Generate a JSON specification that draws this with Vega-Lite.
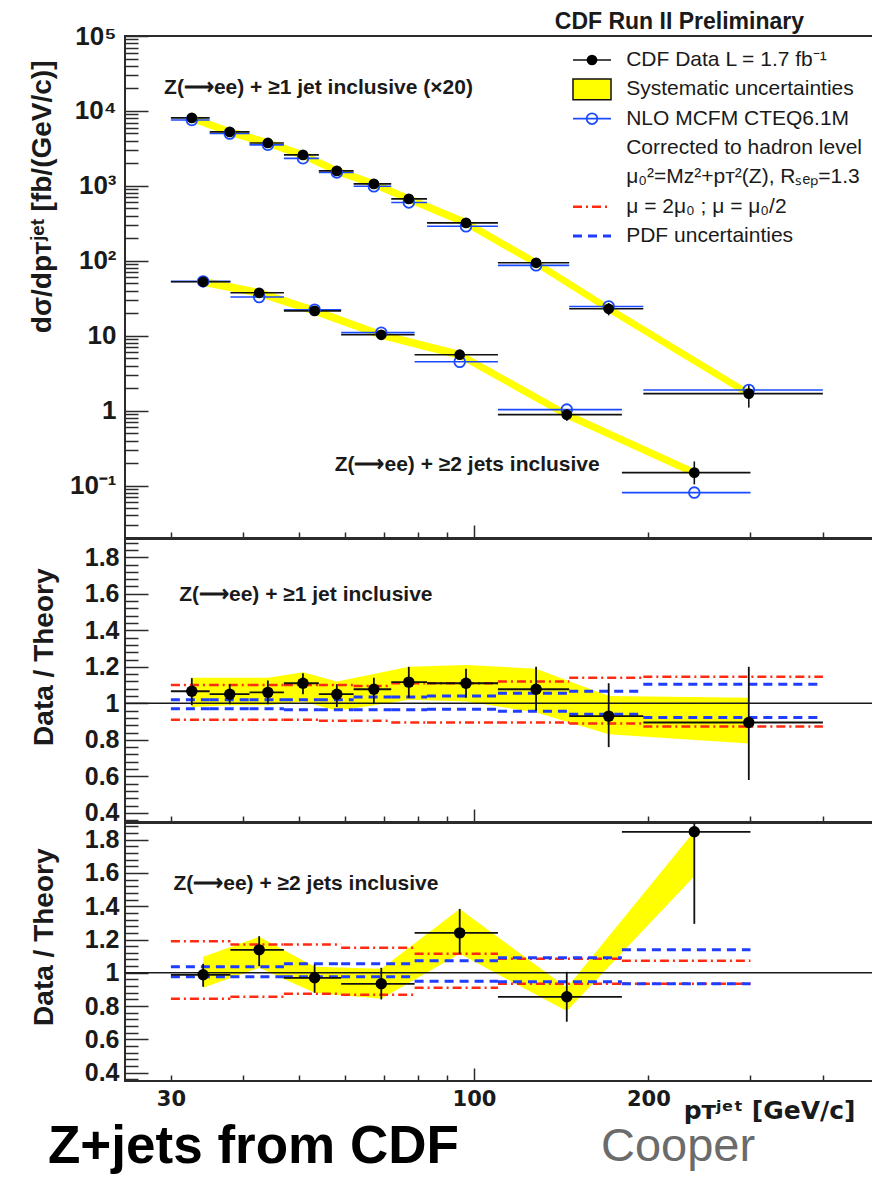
{
  "$schema": "https://vega.github.io/schema/vega-lite/v6.json",
  "background": "white",
  "padding": {"left": 27, "top": 10, "right": 0, "bottom": 0},
  "spacing": 1,
  "bounds": "flush",
  "config": {
    "font": "Liberation Sans",
    "view": {"stroke": "#2b2b2b", "strokeWidth": 2},
    "axis": {"grid": false, "domain": false, "labelFlush": false, "labelOverlap": false, "labelBound": false, "tickColor": "#2b2b2b", "tickWidth": 1.5, "labelColor": "#1a1a1a", "titleColor": "#1a1a1a"}
  },
  "title": {"text": "Z+jets from CDF", "orient": "bottom", "anchor": "start", "frame": "group", "dx": -77, "offset": -50, "font": "Liberation Sans", "fontSize": 53, "fontWeight": "bold", "color": "#000000"},
  "datasets": {
    "bins": [
      {"njet": 1, "pt": 32.6, "lo": 30, "hi": 35, "data": 8070, "theory": 7570, "elo": 7490, "ehi": 8620, "slo": 7100, "shi": 9120, "ratio": 1.066, "rlo": 0.99, "rhi": 1.138, "blo": 0.98, "bhi": 1.14, "sh": 1.10, "sl": 0.91, "ph": 1.02, "pl": 0.97},
      {"njet": 1, "pt": 37.9, "lo": 35, "hi": 41, "data": 5250, "theory": 5000, "elo": 4980, "ehi": 5520, "slo": 4620, "shi": 5930, "ratio": 1.05, "rlo": 0.995, "rhi": 1.105, "blo": 0.99, "bhi": 1.14, "sh": 1.10, "sl": 0.91, "ph": 1.02, "pl": 0.97},
      {"njet": 1, "pt": 44.1, "lo": 41, "hi": 47, "data": 3740, "theory": 3530, "elo": 3510, "ehi": 3970, "slo": 3290, "shi": 4230, "ratio": 1.06, "rlo": 0.995, "rhi": 1.125, "blo": 0.99, "bhi": 1.14, "sh": 1.10, "sl": 0.91, "ph": 1.02, "pl": 0.97},
      {"njet": 1, "pt": 50.7, "lo": 47, "hi": 54, "data": 2590, "theory": 2330, "elo": 2450, "ehi": 2720, "slo": 2280, "shi": 2930, "ratio": 1.11, "rlo": 1.05, "rhi": 1.165, "blo": 1.01, "bhi": 1.17, "sh": 1.10, "sl": 0.91, "ph": 1.02, "pl": 0.965},
      {"njet": 1, "pt": 58.0, "lo": 54, "hi": 62, "data": 1585, "theory": 1510, "elo": 1480, "ehi": 1670, "slo": 1395, "shi": 1790, "ratio": 1.05, "rlo": 0.98, "rhi": 1.105, "blo": 0.96, "bhi": 1.12, "sh": 1.10, "sl": 0.905, "ph": 1.02, "pl": 0.965},
      {"njet": 1, "pt": 67.2, "lo": 62, "hi": 72, "data": 1063, "theory": 987, "elo": 987, "ehi": 1125, "slo": 935, "shi": 1200, "ratio": 1.077, "rlo": 1.0, "rhi": 1.14, "blo": 0.99, "bhi": 1.16, "sh": 1.095, "sl": 0.905, "ph": 1.035, "pl": 0.965},
      {"njet": 1, "pt": 77.2, "lo": 72, "hi": 83, "data": 671, "theory": 601, "elo": 619, "ehi": 721, "slo": 590, "shi": 758, "ratio": 1.116, "rlo": 1.03, "rhi": 1.2, "blo": 1.02, "bhi": 1.2, "sh": 1.11, "sl": 0.895, "ph": 1.035, "pl": 0.965},
      {"njet": 1, "pt": 96.9, "lo": 83, "hi": 110, "data": 321, "theory": 289, "elo": 298, "ehi": 344, "slo": 282, "shi": 363, "ratio": 1.11, "rlo": 1.03, "rhi": 1.19, "blo": 1.01, "bhi": 1.21, "sh": 1.11, "sl": 0.895, "ph": 1.04, "pl": 0.967},
      {"njet": 1, "pt": 128, "lo": 110, "hi": 146, "data": 94, "theory": 87, "elo": 83.8, "ehi": 104.7, "slo": 82.7, "shi": 106, "ratio": 1.077, "rlo": 0.96, "rhi": 1.2, "blo": 0.95, "bhi": 1.19, "sh": 1.12, "sl": 0.895, "ph": 1.055, "pl": 0.957},
      {"njet": 1, "pt": 170.8, "lo": 146, "hi": 196, "data": 22.9, "theory": 24.6, "elo": 18.7, "ehi": 27.3, "slo": 20.2, "shi": 25.9, "ratio": 0.93, "rlo": 0.76, "rhi": 1.11, "blo": 0.83, "bhi": 1.04, "sh": 1.14, "sl": 0.89, "ph": 1.066, "pl": 0.94},
      {"njet": 1, "pt": 298, "lo": 196, "hi": 400, "data": 1.69, "theory": 1.89, "elo": 1.10, "ehi": 2.27, "slo": 1.49, "shi": 1.91, "ratio": 0.895, "rlo": 0.58, "rhi": 1.2, "blo": 0.78, "bhi": 1.03, "sh": 1.145, "sl": 0.873, "ph": 1.105, "pl": 0.923},
      {"njet": 2, "pt": 34.1, "lo": 30, "hi": 38, "data": 52.5, "theory": 53.1, "elo": 48.7, "ehi": 56.0, "slo": 46.2, "shi": 59.3, "ratio": 0.988, "rlo": 0.916, "rhi": 1.054, "blo": 0.91, "bhi": 1.096, "sh": 1.19, "sl": 0.844, "ph": 1.036, "pl": 0.976},
      {"njet": 2, "pt": 42.6, "lo": 38, "hi": 47, "data": 37.4, "theory": 32.9, "elo": 34.2, "ehi": 40.1, "slo": 32.9, "shi": 42.3, "ratio": 1.138, "rlo": 1.04, "rhi": 1.22, "blo": 1.03, "bhi": 1.216, "sh": 1.17, "sl": 0.856, "ph": 1.036, "pl": 0.976},
      {"njet": 2, "pt": 53.1, "lo": 47, "hi": 59, "data": 21.5, "theory": 22.2, "elo": 19.5, "ehi": 23.3, "slo": 18.9, "shi": 24.3, "ratio": 0.97, "rlo": 0.88, "rhi": 1.05, "blo": 0.88, "bhi": 1.036, "sh": 1.17, "sl": 0.874, "ph": 1.054, "pl": 0.976},
      {"njet": 2, "pt": 69.2, "lo": 59, "hi": 79, "data": 10.3, "theory": 11.0, "elo": 9.26, "ehi": 11.36, "slo": 9.06, "shi": 11.6, "ratio": 0.934, "rlo": 0.84, "rhi": 1.03, "blo": 0.844, "bhi": 1.024, "sh": 1.15, "sl": 0.868, "ph": 1.054, "pl": 0.976},
      {"njet": 2, "pt": 94.5, "lo": 79, "hi": 110, "data": 5.58, "theory": 4.5, "elo": 5.01, "ehi": 6.23, "slo": 4.91, "shi": 6.31, "ratio": 1.24, "rlo": 1.114, "rhi": 1.384, "blo": 1.114, "bhi": 1.384, "sh": 1.114, "sl": 0.91, "ph": 1.072, "pl": 0.95},
      {"njet": 2, "pt": 144.6, "lo": 110, "hi": 180, "data": 0.885, "theory": 1.034, "elo": 0.73, "ehi": 1.04, "slo": 0.779, "shi": 1.0, "ratio": 0.856, "rlo": 0.706, "rhi": 1.006, "blo": 0.77, "bhi": 0.91, "sh": 1.084, "sl": 0.934, "ph": 1.09, "pl": 0.946},
      {"njet": 2, "pt": 240, "lo": 180, "hi": 300, "data": 0.149, "theory": 0.0807, "elo": 0.104, "ehi": 0.21, "slo": 0.131, "shi": 0.168, "ratio": 1.847, "rlo": 1.294, "rhi": 2.6, "blo": 1.58, "bhi": 1.85, "sh": 1.072, "sl": 0.934, "ph": 1.138, "pl": 0.934}
    ],
    "legendRows": [
      {"entry": "CDF Data  L = 1.7 fb⁻¹", "kind": "data"},
      {"entry": "Systematic uncertainties", "kind": "band"},
      {"entry": "NLO MCFM CTEQ6.1M", "kind": "theory"},
      {"entry": "Corrected to hadron level", "kind": "note"},
      {"entry": "μ₀²=Mᴢ²+pᴛ²(Z), Rₛₑₚ=1.3", "kind": "note"},
      {"entry": "μ = 2μ₀ ; μ = μ₀/2", "kind": "scale"},
      {"entry": "PDF uncertainties", "kind": "pdf"}
    ]
  },
  "vconcat": [
    {
      "width": 750,
      "height": 502,
      "title": {"text": "CDF Run II Preliminary", "anchor": "end", "frame": "group", "dx": -71, "offset": -29, "baseline": "alphabetic", "font": "Liberation Sans", "fontSize": 23, "fontWeight": "bold", "color": "#1a1a1a"},
      "resolve": {"scale": {"x": "independent", "y": "independent"}},
      "layer": [
        {
          "data": {"name": "bins"},
          "resolve": {"axis": {"x": "independent", "y": "independent"}},
          "layer": [
            {
              "mark": {"type": "area", "color": "#ffff00", "opacity": 1, "clip": true},
              "encoding": {
                "x": {"field": "pt", "type": "quantitative", "scale": {"type": "log", "domain": [25, 492], "nice": false},
                  "axis": {"orient": "bottom", "values": [30, 40, 50, 60, 70, 80, 90, 200, 300, 400], "labels": false, "title": null, "tickSize": -6}},
                "y": {"field": "slo", "type": "quantitative", "scale": {"type": "log", "domain": [0.02, 100000], "nice": false},
                  "axis": {"orient": "left", "values": [0.1, 1, 10, 100, 1000, 10000, 100000], "ticks": false,
                    "labelExpr": "datum.value == 0.1 ? '10⁻¹' : datum.value == 1 ? '1' : datum.value == 10 ? '10' : datum.value == 100 ? '10²' : datum.value == 1000 ? '10³' : datum.value == 10000 ? '10⁴' : '10⁵'",
                    "labelFont": "Liberation Sans", "labelFontSize": 26, "labelFontWeight": "bold", "labelPadding": 9, "labelBaseline": "middle",
                    "title": "dσ/dpᴛʲᵉᵗ  [fb/(GeV/c)]", "titleFont": "Liberation Sans", "titleFontSize": 28, "titleFontWeight": "bold",
                    "titleAnchor": "end", "titleAlign": "right", "titleAngle": 270, "titleBaseline": "alphabetic", "titleX": -75, "titleY": 24}},
                "y2": {"field": "shi"},
                "detail": {"field": "njet"}
              }
            },
            {
              "mark": {"type": "rule", "color": "#1a4bff", "strokeWidth": 1.6, "clip": true},
              "encoding": {
                "x": {"field": "lo", "type": "quantitative", "axis": {"orient": "bottom", "values": [100], "labels": false, "title": null, "tickSize": -13}},
                "x2": {"field": "hi"},
                "y": {"field": "theory", "type": "quantitative", "axis": {"orient": "left", "values": [0.1, 1, 10, 100, 1000, 10000, 100000], "labels": false, "title": null, "tickSize": -23}}
              }
            },
            {
              "mark": {"type": "rule", "color": "#111111", "strokeWidth": 1.6, "clip": true},
              "encoding": {
                "x": {"field": "lo", "type": "quantitative", "axis": null},
                "x2": {"field": "hi"},
                "y": {"field": "data", "type": "quantitative", "axis": {"orient": "left", "values": [0.02, 0.03, 0.04, 0.05, 0.06, 0.07, 0.08, 0.09, 0.2, 0.3, 0.4, 0.5, 0.6, 0.7, 0.8, 0.9, 2, 3, 4, 5, 6, 7, 8, 9, 20, 30, 40, 50, 60, 70, 80, 90, 200, 300, 400, 500, 600, 700, 800, 900, 2000, 3000, 4000, 5000, 6000, 7000, 8000, 9000, 20000, 30000, 40000, 50000, 60000, 70000, 80000, 90000], "labels": false, "title": null, "tickSize": -13}}
              }
            },
            {
              "mark": {"type": "rule", "color": "#111111", "strokeWidth": 1.6, "clip": true},
              "encoding": {
                "x": {"field": "pt", "type": "quantitative", "axis": null},
                "y": {"field": "elo", "type": "quantitative", "axis": null},
                "y2": {"field": "ehi"}
              }
            },
            {
              "mark": {"type": "point", "shape": "circle", "filled": false, "color": "#1a4bff", "strokeWidth": 1.8, "size": 115, "opacity": 1},
              "encoding": {
                "x": {"field": "pt", "type": "quantitative", "axis": null},
                "y": {"field": "theory", "type": "quantitative", "axis": null}
              }
            },
            {
              "mark": {"type": "point", "shape": "circle", "filled": true, "color": "#000000", "size": 115, "opacity": 1},
              "encoding": {
                "x": {"field": "pt", "type": "quantitative", "axis": null},
                "y": {"field": "data", "type": "quantitative", "axis": null}
              }
            },
            {
              "data": {"values": [{"label": "Z(⟶ee) + ≥1 jet inclusive (×20)"}]},
              "mark": {"type": "text", "align": "left", "baseline": "middle", "font": "Liberation Sans", "fontSize": 21, "fontWeight": "bold", "color": "#1a1a1a"},
              "encoding": {
                "x": {"datum": 29.2, "type": "quantitative", "axis": null},
                "y": {"datum": 20300, "type": "quantitative", "axis": null},
                "text": {"field": "label"}
              }
            },
            {
              "data": {"values": [{"label": "Z(⟶ee) + ≥2 jets inclusive"}]},
              "mark": {"type": "text", "align": "left", "baseline": "middle", "font": "Liberation Sans", "fontSize": 21, "fontWeight": "bold", "color": "#1a1a1a"},
              "encoding": {
                "x": {"datum": 57.5, "type": "quantitative", "axis": null},
                "y": {"datum": 0.19, "type": "quantitative", "axis": null},
                "text": {"field": "label"}
              }
            }
          ]
        },
        {
          "data": {"name": "legendRows"},
          "encoding": {
            "y": {"field": "entry", "type": "nominal", "axis": null, "sort": null,
              "scale": {"type": "point", "padding": 0, "domain": ["CDF Data  L = 1.7 fb⁻¹", "Systematic uncertainties", "NLO MCFM CTEQ6.1M", "Corrected to hadron level", "μ₀²=Mᴢ²+pᴛ²(Z), Rₛₑₚ=1.3", "μ = 2μ₀ ; μ = μ₀/2", "PDF uncertainties"], "range": [24, 200]}}
          },
          "layer": [
            {
              "transform": [{"filter": "datum.kind == 'data' || datum.kind == 'theory'"}],
              "mark": {"type": "rule", "strokeWidth": 1.6},
              "encoding": {
                "x": {"datum": 0, "type": "quantitative", "axis": null, "scale": {"domain": [0, 1], "range": [448, 486]}},
                "x2": {"datum": 1},
                "color": {"field": "kind", "type": "nominal", "legend": null, "scale": {"domain": ["data", "theory"], "range": ["#111111", "#1a4bff"]}}
              }
            },
            {
              "transform": [{"filter": "datum.kind == 'scale'"}],
              "mark": {"type": "rule", "strokeWidth": 2.5, "color": "#ff2a10", "strokeDash": [9, 4, 2, 4]},
              "encoding": {"x": {"datum": 0, "type": "quantitative", "axis": null}, "x2": {"datum": 1}}
            },
            {
              "transform": [{"filter": "datum.kind == 'pdf'"}],
              "mark": {"type": "rule", "strokeWidth": 3, "color": "#1f3dff", "strokeDash": [9, 6]},
              "encoding": {"x": {"datum": 0, "type": "quantitative", "axis": null}, "x2": {"datum": 1}}
            },
            {
              "transform": [{"filter": "datum.kind == 'band'"}],
              "mark": {"type": "point", "shape": "M-2,-1.1H2V1.1H-2Z", "size": 361, "filled": true, "fill": "#ffff00", "stroke": "#111111", "strokeWidth": 1.5, "opacity": 1},
              "encoding": {"x": {"datum": 0.5, "type": "quantitative", "axis": null}}
            },
            {
              "transform": [{"filter": "datum.kind == 'theory'"}],
              "mark": {"type": "point", "shape": "circle", "filled": false, "color": "#1a4bff", "strokeWidth": 1.8, "size": 115, "opacity": 1},
              "encoding": {"x": {"datum": 0.5, "type": "quantitative", "axis": null}}
            },
            {
              "transform": [{"filter": "datum.kind == 'data'"}],
              "mark": {"type": "point", "shape": "circle", "filled": true, "color": "#000000", "size": 115, "opacity": 1},
              "encoding": {"x": {"datum": 0.5, "type": "quantitative", "axis": null}}
            },
            {
              "mark": {"type": "text", "align": "left", "baseline": "middle", "font": "Liberation Sans", "fontSize": 21, "color": "#1a1a1a"},
              "encoding": {"x": {"datum": 1.4, "type": "quantitative", "axis": null}, "text": {"field": "entry"}}
            }
          ]
        }
      ]
    },
    {
      "width": 750,
      "height": 283,
      "data": {"name": "bins"},
      "resolve": {"axis": {"x": "independent", "y": "independent"}},
      "layer": [
        {
          "transform": [{"filter": "datum.njet == 1"}],
          "mark": {"type": "area", "color": "#ffff00", "opacity": 1, "clip": true},
          "encoding": {
            "x": {"field": "pt", "type": "quantitative", "scale": {"type": "log", "domain": [25, 492], "nice": false},
              "axis": {"orient": "bottom", "values": [30, 40, 50, 60, 70, 80, 90, 200, 300, 400], "labels": false, "title": null, "tickSize": -6}},
            "y": {"field": "blo", "type": "quantitative", "scale": {"domain": [0.35, 1.9], "nice": false, "zero": false},
              "axis": {"orient": "left", "values": [0.4, 0.6, 0.8, 1, 1.2, 1.4, 1.6, 1.8], "ticks": false,
                "labelExpr": "datum.value == 1 ? '1' : format(datum.value, '.1f')",
                "labelFont": "Liberation Sans", "labelFontSize": 25, "labelFontWeight": "bold", "labelPadding": 6, "labelBaseline": "middle",
                "title": "Data / Theory", "titleFont": "Liberation Sans", "titleFontSize": 28, "titleFontWeight": "bold",
                "titleAnchor": "end", "titleAlign": "right", "titleAngle": 270, "titleBaseline": "alphabetic", "titleX": -73, "titleY": 29}},
            "y2": {"field": "bhi"}
          }
        },
        {
          "transform": [{"filter": "datum.njet == 1"}],
          "mark": {"type": "rule", "color": "#ff2a10", "strokeWidth": 2.5, "strokeDash": [9, 4, 2, 4], "clip": true},
          "encoding": {
            "x": {"field": "lo", "type": "quantitative", "axis": {"orient": "bottom", "values": [100], "labels": false, "title": null, "tickSize": -13}},
            "x2": {"field": "hi"},
            "y": {"field": "sh", "type": "quantitative", "axis": {"orient": "left", "values": [0.4, 0.6, 0.8, 1, 1.2, 1.4, 1.6, 1.8], "labels": false, "title": null, "tickSize": -23}}
          }
        },
        {
          "transform": [{"filter": "datum.njet == 1"}],
          "mark": {"type": "rule", "color": "#ff2a10", "strokeWidth": 2.5, "strokeDash": [9, 4, 2, 4], "clip": true},
          "encoding": {
            "x": {"field": "lo", "type": "quantitative", "axis": null},
            "x2": {"field": "hi"},
            "y": {"field": "sl", "type": "quantitative", "axis": {"orient": "left", "values": [0.36, 0.44, 0.48, 0.52, 0.56, 0.64, 0.68, 0.72, 0.76, 0.84, 0.88, 0.92, 0.96, 1.04, 1.08, 1.12, 1.16, 1.24, 1.28, 1.32, 1.36, 1.44, 1.48, 1.52, 1.56, 1.64, 1.68, 1.72, 1.76, 1.84, 1.88], "labels": false, "title": null, "tickSize": -13}}
          }
        },
        {
          "transform": [{"filter": "datum.njet == 1"}],
          "mark": {"type": "rule", "color": "#1f3dff", "strokeWidth": 3, "strokeDash": [9, 6], "clip": true},
          "encoding": {"x": {"field": "lo", "type": "quantitative", "axis": null}, "x2": {"field": "hi"}, "y": {"field": "ph", "type": "quantitative", "axis": null}}
        },
        {
          "transform": [{"filter": "datum.njet == 1"}],
          "mark": {"type": "rule", "color": "#1f3dff", "strokeWidth": 3, "strokeDash": [9, 6], "clip": true},
          "encoding": {"x": {"field": "lo", "type": "quantitative", "axis": null}, "x2": {"field": "hi"}, "y": {"field": "pl", "type": "quantitative", "axis": null}}
        },
        {
          "data": {"values": [{"ref": 1}]},
          "mark": {"type": "rule", "color": "#1a1a1a", "strokeWidth": 1.5},
          "encoding": {"y": {"field": "ref", "type": "quantitative", "axis": null}}
        },
        {
          "transform": [{"filter": "datum.njet == 1"}],
          "mark": {"type": "rule", "color": "#111111", "strokeWidth": 1.8, "clip": true},
          "encoding": {"x": {"field": "lo", "type": "quantitative", "axis": null}, "x2": {"field": "hi"}, "y": {"field": "ratio", "type": "quantitative", "axis": null}}
        },
        {
          "transform": [{"filter": "datum.njet == 1"}],
          "mark": {"type": "rule", "color": "#111111", "strokeWidth": 1.8, "clip": true},
          "encoding": {"x": {"field": "pt", "type": "quantitative", "axis": null}, "y": {"field": "rlo", "type": "quantitative", "axis": null}, "y2": {"field": "rhi"}}
        },
        {
          "transform": [{"filter": "datum.njet == 1"}],
          "mark": {"type": "point", "shape": "circle", "filled": true, "color": "#000000", "size": 130, "opacity": 1},
          "encoding": {"x": {"field": "pt", "type": "quantitative", "axis": null}, "y": {"field": "ratio", "type": "quantitative", "axis": null}}
        },
        {
          "data": {"values": [{"label": "Z(⟶ee) + ≥1 jet inclusive"}]},
          "mark": {"type": "text", "align": "left", "baseline": "middle", "font": "Liberation Sans", "fontSize": 21, "fontWeight": "bold", "color": "#1a1a1a"},
          "encoding": {
            "x": {"datum": 31.0, "type": "quantitative", "axis": null},
            "y": {"datum": 1.595, "type": "quantitative", "axis": null},
            "text": {"field": "label"}
          }
        }
      ]
    },
    {
      "width": 750,
      "height": 258,
      "title": {"text": "Cooper", "orient": "bottom", "anchor": "start", "frame": "group", "dx": 476, "offset": 1, "font": "Liberation Sans", "fontSize": 47, "fontWeight": "normal", "color": "#6b6b6b"},
      "data": {"name": "bins"},
      "resolve": {"axis": {"x": "independent", "y": "independent"}},
      "layer": [
        {
          "transform": [{"filter": "datum.njet == 2"}],
          "mark": {"type": "area", "color": "#ffff00", "opacity": 1, "clip": true},
          "encoding": {
            "x": {"field": "pt", "type": "quantitative", "scale": {"type": "log", "domain": [25, 492], "nice": false},
              "axis": {"orient": "bottom", "values": [30, 100, 200], "ticks": false,
                "labelExpr": "format(datum.value, 'd')",
                "labelFont": "DejaVu Sans", "labelFontSize": 21, "labelFontWeight": "bold", "labelPadding": 7,
                "title": "pᴛʲᵉᵗ  [GeV/c]", "titleFont": "DejaVu Sans", "titleFontSize": 25, "titleFontWeight": "bold",
                "titleAnchor": "end", "titleAlign": "right", "titleBaseline": "alphabetic", "titleX": 730, "titleY": 37}},
            "y": {"field": "blo", "type": "quantitative", "scale": {"domain": [0.35, 1.9], "nice": false, "zero": false},
              "axis": {"orient": "left", "values": [0.4, 0.6, 0.8, 1, 1.2, 1.4, 1.6, 1.8], "ticks": false,
                "labelExpr": "datum.value == 1 ? '1' : format(datum.value, '.1f')",
                "labelFont": "Liberation Sans", "labelFontSize": 25, "labelFontWeight": "bold", "labelPadding": 6, "labelBaseline": "middle",
                "title": "Data / Theory", "titleFont": "Liberation Sans", "titleFontSize": 28, "titleFontWeight": "bold",
                "titleAnchor": "end", "titleAlign": "right", "titleAngle": 270, "titleBaseline": "alphabetic", "titleX": -73, "titleY": 25}},
            "y2": {"field": "bhi"}
          }
        },
        {
          "transform": [{"filter": "datum.njet == 2"}],
          "mark": {"type": "rule", "color": "#ff2a10", "strokeWidth": 2.5, "strokeDash": [9, 4, 2, 4], "clip": true},
          "encoding": {
            "x": {"field": "lo", "type": "quantitative", "axis": {"orient": "bottom", "values": [100], "labels": false, "title": null, "tickSize": -13}},
            "x2": {"field": "hi"},
            "y": {"field": "sh", "type": "quantitative", "axis": {"orient": "left", "values": [0.4, 0.6, 0.8, 1, 1.2, 1.4, 1.6, 1.8], "labels": false, "title": null, "tickSize": -23}}
          }
        },
        {
          "transform": [{"filter": "datum.njet == 2"}],
          "mark": {"type": "rule", "color": "#ff2a10", "strokeWidth": 2.5, "strokeDash": [9, 4, 2, 4], "clip": true},
          "encoding": {
            "x": {"field": "lo", "type": "quantitative", "axis": {"orient": "bottom", "values": [30, 40, 50, 60, 70, 80, 90, 200, 300, 400], "labels": false, "title": null, "tickSize": -6}},
            "x2": {"field": "hi"},
            "y": {"field": "sl", "type": "quantitative", "axis": {"orient": "left", "values": [0.36, 0.44, 0.48, 0.52, 0.56, 0.64, 0.68, 0.72, 0.76, 0.84, 0.88, 0.92, 0.96, 1.04, 1.08, 1.12, 1.16, 1.24, 1.28, 1.32, 1.36, 1.44, 1.48, 1.52, 1.56, 1.64, 1.68, 1.72, 1.76, 1.84, 1.88], "labels": false, "title": null, "tickSize": -13}}
          }
        },
        {
          "transform": [{"filter": "datum.njet == 2"}],
          "mark": {"type": "rule", "color": "#1f3dff", "strokeWidth": 3, "strokeDash": [9, 6], "clip": true},
          "encoding": {"x": {"field": "lo", "type": "quantitative", "axis": null}, "x2": {"field": "hi"}, "y": {"field": "ph", "type": "quantitative", "axis": null}}
        },
        {
          "transform": [{"filter": "datum.njet == 2"}],
          "mark": {"type": "rule", "color": "#1f3dff", "strokeWidth": 3, "strokeDash": [9, 6], "clip": true},
          "encoding": {"x": {"field": "lo", "type": "quantitative", "axis": null}, "x2": {"field": "hi"}, "y": {"field": "pl", "type": "quantitative", "axis": null}}
        },
        {
          "data": {"values": [{"ref": 1}]},
          "mark": {"type": "rule", "color": "#1a1a1a", "strokeWidth": 1.5},
          "encoding": {"y": {"field": "ref", "type": "quantitative", "axis": null}}
        },
        {
          "transform": [{"filter": "datum.njet == 2"}],
          "mark": {"type": "rule", "color": "#111111", "strokeWidth": 1.8, "clip": true},
          "encoding": {"x": {"field": "lo", "type": "quantitative", "axis": null}, "x2": {"field": "hi"}, "y": {"field": "ratio", "type": "quantitative", "axis": null}}
        },
        {
          "transform": [{"filter": "datum.njet == 2"}],
          "mark": {"type": "rule", "color": "#111111", "strokeWidth": 1.8, "clip": true},
          "encoding": {"x": {"field": "pt", "type": "quantitative", "axis": null}, "y": {"field": "rlo", "type": "quantitative", "axis": null}, "y2": {"field": "rhi"}}
        },
        {
          "transform": [{"filter": "datum.njet == 2"}],
          "mark": {"type": "point", "shape": "circle", "filled": true, "color": "#000000", "size": 130, "opacity": 1},
          "encoding": {"x": {"field": "pt", "type": "quantitative", "axis": null}, "y": {"field": "ratio", "type": "quantitative", "axis": null}}
        },
        {
          "data": {"values": [{"label": "Z(⟶ee) + ≥2 jets inclusive"}]},
          "mark": {"type": "text", "align": "left", "baseline": "middle", "font": "Liberation Sans", "fontSize": 21, "fontWeight": "bold", "color": "#1a1a1a"},
          "encoding": {
            "x": {"datum": 30.3, "type": "quantitative", "axis": null},
            "y": {"datum": 1.535, "type": "quantitative", "axis": null},
            "text": {"field": "label"}
          }
        }
      ]
    }
  ]
}
